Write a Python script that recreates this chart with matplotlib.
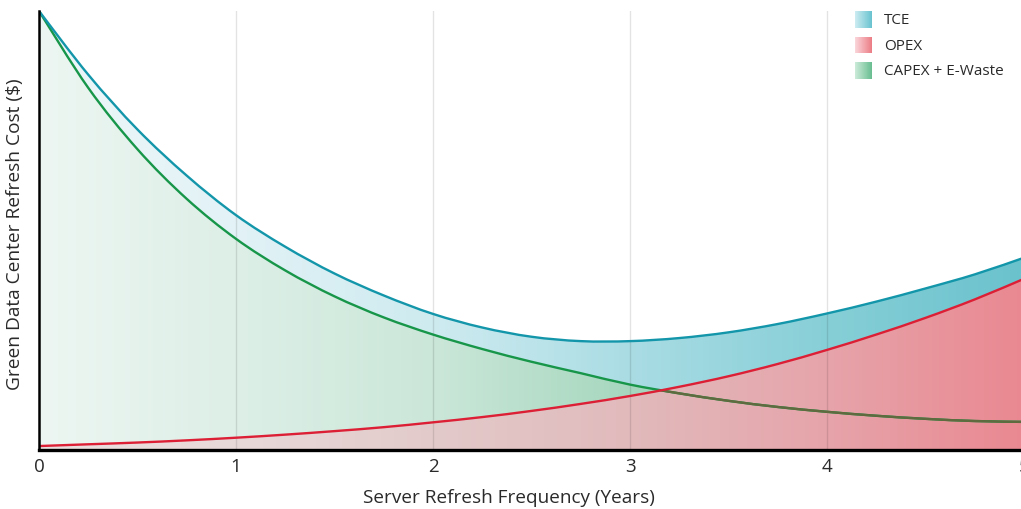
import numpy as np
import matplotlib
matplotlib.use("Agg")
import matplotlib.pyplot as plt
from matplotlib.path import Path
from matplotlib.patches import PathPatch

plt.rcParams['font.family'] = ['Open Sans', 'DejaVu Sans']

# refresh frequency in years and the three cost curves (relative units)
years = [0, 0.25, 0.5, 0.75, 1, 1.25, 1.5, 1.75, 2, 2.25, 2.5,
         2.75, 3, 3.25, 3.5, 3.75, 4, 4.25, 4.5, 4.75, 5]
tce = [100, 85.5, 73.0, 62.5, 53.5, 46.3, 40.2, 35.2, 31.0, 27.9, 25.8,
       24.8, 24.8, 25.5, 26.8, 28.7, 31.1, 33.8, 36.8, 40.0, 43.8]
opex = [0.9, 1.3, 1.7, 2.2, 2.8, 3.5, 4.3, 5.2, 6.3, 7.5, 8.9,
        10.5, 12.3, 14.4, 16.8, 19.6, 22.8, 26.3, 30.1, 34.3, 39.0]
capex = [100, 82.5, 68.5, 57.2, 48.1, 40.9, 35.0, 30.2, 26.3, 23.0, 20.1,
         17.5, 14.9, 12.9, 11.2, 9.8, 8.7, 7.8, 7.1, 6.6, 6.4]

series_names = ['TCE', 'OPEX', 'CAPEX + E-Waste']
x_ticks = [0, 1, 2, 3, 4, 5]


def curve_verts(xs, ys):
    # cubic bezier (catmull-rom style) through the points so the line is smooth
    p = np.column_stack([xs, ys]).astype(float)
    ext = np.vstack([p[0], p, p[-1]])
    verts = [p[0]]
    codes = [Path.MOVETO]
    for i in range(len(p) - 1):
        p0, p1, p2, p3 = ext[i], ext[i + 1], ext[i + 2], ext[i + 3]
        verts += [p1 + (p2 - p0) / 6, p2 - (p3 - p1) / 6, p2]
        codes += [Path.CURVE4] * 3
    return verts, codes


def line_path(xs, ys):
    v, c = curve_verts(xs, ys)
    return Path(v, c)


def area_path(xs, ys):
    v, c = curve_verts(xs, ys)
    v += [(xs[-1], 0), (xs[0], 0), (xs[0], ys[0]), (0, 0)]
    c += [Path.LINETO, Path.LINETO, Path.LINETO, Path.CLOSEPOLY]
    return Path(v, c)


def gradient(stops, n=400):
    # horizontal colour ramp, stops given as (x, rgb)
    xs = np.linspace(0, 5, n)
    pos = [s[0] for s in stops]
    rgb = np.array([s[1] for s in stops], dtype=float) / 255.0
    img = np.stack([np.interp(xs, pos, rgb[:, i]) for i in range(3)], axis=-1)
    return img[np.newaxis, :, :]


def gradient_area(ax, ys, stops, z):
    patch = PathPatch(area_path(years, ys), facecolor='none', edgecolor='none',
                      transform=ax.transData)
    ax.add_patch(patch)
    im = ax.imshow(gradient(stops), extent=[0, 5, 0, 100], aspect='auto',
                   origin='lower', zorder=z, interpolation='bilinear')
    im.set_clip_path(patch)
    return patch


fig = plt.figure(figsize=(10.21, 5.10), dpi=100)
ax = fig.add_axes([39 / 1021, 59 / 510, (1024 - 39) / 1021, (451 - 12) / 510])

teal_stops = [(0, (237, 247, 249)), (1, (226, 242, 246)), (2, (206, 235, 240)),
              (3, (170, 220, 228)), (4, (135, 207, 215)), (5, (106, 194, 205))]
green_stops = [(0, (237, 246, 242)), (1, (221, 239, 231)), (2, (203, 231, 217)),
               (3, (166, 215, 190)), (5, (150, 208, 178))]
red_stops = [(0, (236, 224, 224)), (1, (232, 217, 217)), (2, (227, 202, 202)),
             (3, (225, 186, 188)), (4, (230, 164, 170)), (5, (234, 136, 145))]

gradient_area(ax, tce, teal_stops, 1)
gradient_area(ax, capex, green_stops, 1.1)
red_patch = gradient_area(ax, opex, red_stops, 1.2)

# vertical grid, faint over the fills
for t in x_ticks[1:-1]:
    ax.axvline(t, color='black', alpha=0.11, lw=1, zorder=1.5)

ax.add_patch(PathPatch(line_path(years, capex), fill=False, edgecolor='#17964a',
                       lw=1.7, zorder=3))
olive = PathPatch(line_path(years, capex), fill=False, edgecolor='#5f6a3e',
                  lw=1.7, zorder=3.1)
ax.add_patch(olive)
olive.set_clip_path(red_patch)
ax.add_patch(PathPatch(line_path(years, opex), fill=False, edgecolor='#dc1f35',
                       lw=1.7, zorder=4))
ax.add_patch(PathPatch(line_path(years, tce), fill=False, edgecolor='#1396aa',
                       lw=1.7, zorder=5))

ax.set_xlim(0, 5)
ax.set_ylim(0, 100)
ax.set_xticks(x_ticks)
ax.set_yticks([])
ax.tick_params(axis='x', length=0, pad=5, labelsize=13.5, colors='#2a2a2a')
for s in ['top', 'right']:
    ax.spines[s].set_visible(False)
ax.spines['left'].set_linewidth(1.8)
ax.spines['bottom'].set_linewidth(2.4)
ax.spines['left'].set_zorder(6)
ax.spines['bottom'].set_zorder(6)

fig.text(509 / 1021, 1 - 498 / 510, 'Server Refresh Frequency (Years)',
         ha='center', va='center', fontsize=13.7, color='#2a2a2a')
fig.text(15 / 1021, 1 - 234 / 510, 'Green Data Center Refresh Cost ($)',
         ha='center', va='center', rotation=90, fontsize=13.8, color='#2a2a2a')

# legend swatches with their own ramps
legend_ramps = [[(0, (205, 236, 241)), (5, (105, 195, 208))],
                [(0, (250, 214, 218)), (5, (236, 125, 134))],
                [(0, (205, 235, 218)), (5, (105, 190, 145))]]
for i, (name, ramp) in enumerate(zip(series_names, legend_ramps)):
    top = 12 + i * 25.5
    sw = fig.add_axes([855 / 1021, 1 - (top + 17) / 510, 17 / 1021, 17 / 510])
    sw.imshow(gradient(ramp, 50), extent=[0, 5, 0, 1], aspect='auto')
    sw.axis('off')
    fig.text(884 / 1021, 1 - (top + 9) / 510, name, ha='left', va='center',
             fontsize=11, color='#2a2a2a')

fig.savefig('out.png', dpi=100)
